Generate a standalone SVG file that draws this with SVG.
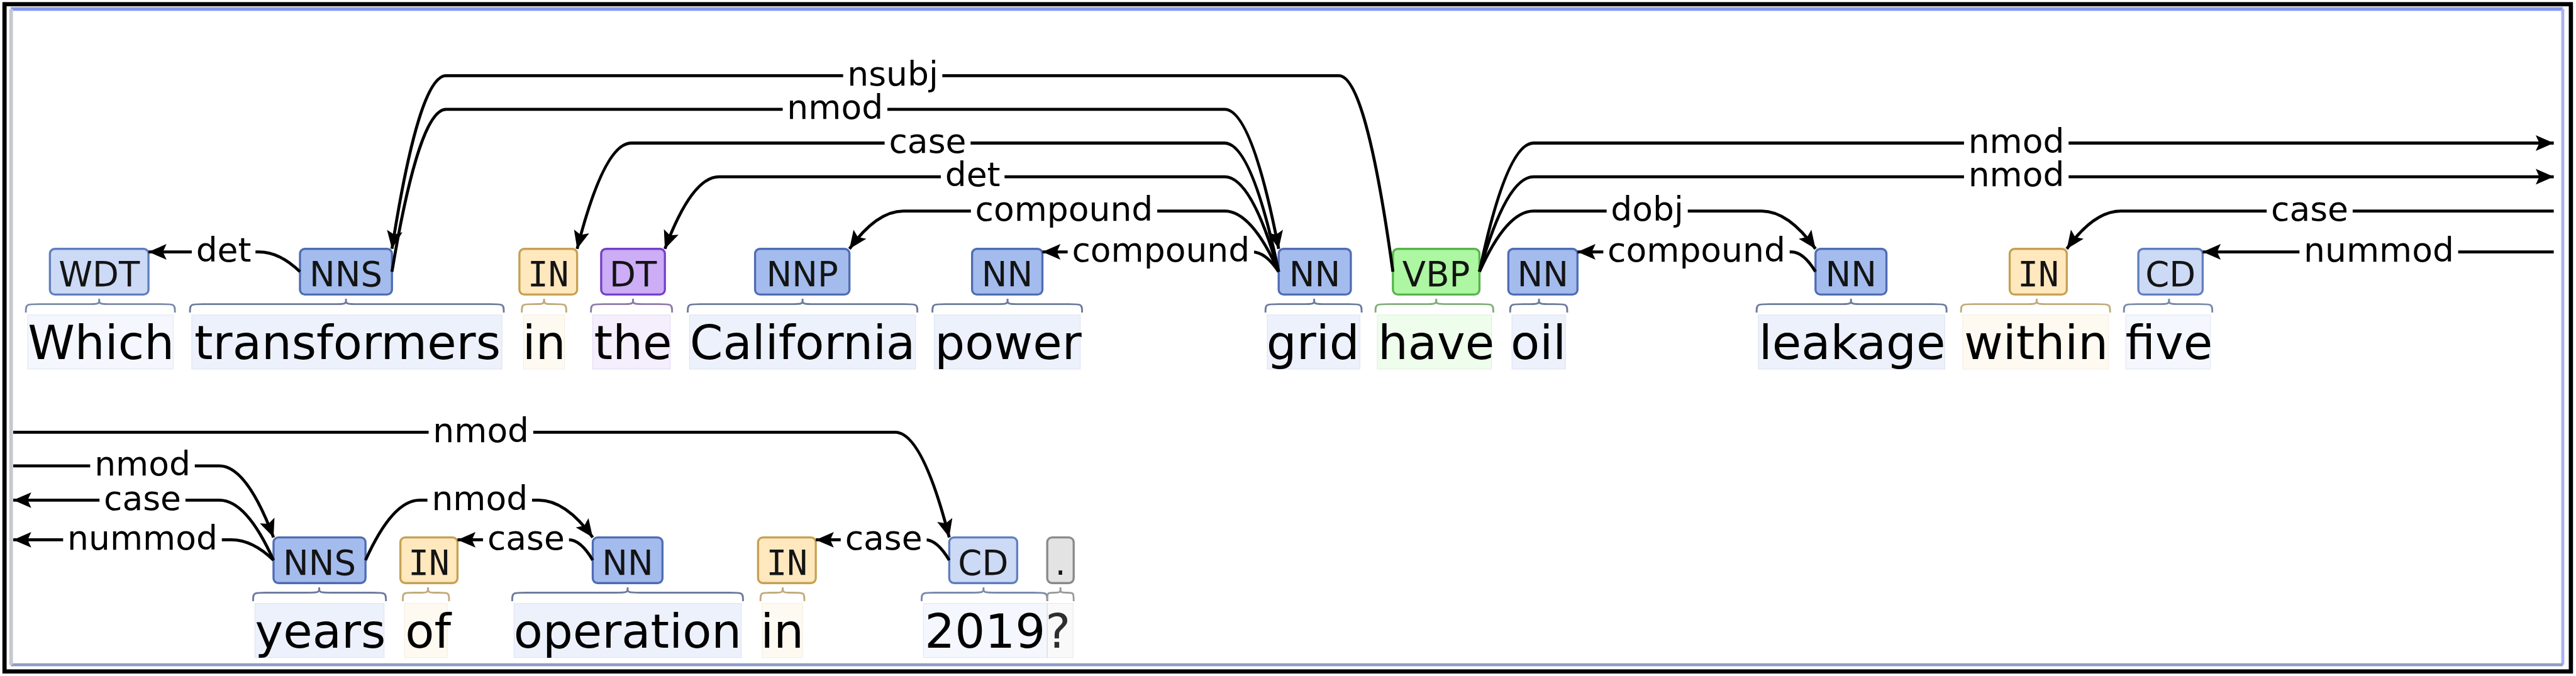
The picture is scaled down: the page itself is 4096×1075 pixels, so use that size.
<svg xmlns="http://www.w3.org/2000/svg" width="4096" height="1075" viewBox="0 0 4096 1075">
<style>
.bx{stroke-width:3.5}
.nn{fill:#A4BCED;stroke:#4f6cb4}
.vb{fill:#ADF6A2;stroke:#58b34c}
.in{fill:#FFE8BE;stroke:#c6a152}
.dt{fill:#CCADF6;stroke:#7440c8}
.cd{fill:#CCDAF6;stroke:#5f7ec0}
.pu{fill:#E3E3E3;stroke:#8a8a8a}
.br{fill:none;stroke-width:3}
.bnn{stroke:#6d7b9c}.bvb{stroke:#7fae78}.bin{stroke:#c2ab7c}.bdt{stroke:#8e7aaa}.bcd{stroke:#7a8aab}.bpu{stroke:#9a9a9a}
.wb{opacity:0.2}
.tg{font-family:"DejaVu Sans",sans-serif;font-size:57px;fill:#141414;text-anchor:middle}
.tm{font-family:"DejaVu Sans Mono",monospace}
.wd{font-family:"DejaVu Sans",sans-serif;font-size:79px;fill:#000;text-anchor:middle}
.arc{fill:none;stroke:#000;stroke-width:5}
.ar{marker-end:url(#ah)}
.lb{font-family:"DejaVu Sans",sans-serif;font-size:56px;fill:#000;text-anchor:middle}
.lbg{fill:#fff}
</style>
<defs>
<marker id="ah" markerUnits="userSpaceOnUse" markerWidth="34" markerHeight="30" viewBox="-32 -15 34 30" refX="0" refY="0" orient="auto">
<path d="M0,0 L-30,-13 L-24,0 L-30,13 Z" fill="#000"/>
</marker>
</defs>
<rect x="0" y="0" width="4096" height="1075" fill="#fff"/>
<g transform="scale(0.955893)">
<g id="frame">
<rect x="7.5" y="7" width="4269" height="1110" fill="none" stroke="#000" stroke-width="7"/>
<line x1="18" y1="15" x2="4263" y2="15" stroke="#8499ec" stroke-width="6"/>
<line x1="4263" y1="15" x2="4263" y2="1106" stroke="#a9b0f6" stroke-width="5"/>
<line x1="18" y1="1106" x2="4263" y2="1106" stroke="#8f9cc6" stroke-width="5"/>
<line x1="18.5" y1="15" x2="18.5" y2="1106" stroke="#c6c8d0" stroke-width="6"/>
</g>

<!-- Row 1 tokens -->
<g id="t1-Which">
<rect class="cd wb" x="46" y="524" width="242" height="90"/>
<rect class="bx cd" x="83" y="414" width="164" height="76" rx="8"/>
<text class="tg" x="165" y="476">WDT</text>
<path class="br bcd" d="M43,520 C43,506 43,506 65,506 L143,506 C165,506 165,506 165,497 C165,506 165,506 187,506 L269,506 C291,506 291,506 291,520"/>
<text class="wd" x="168" y="597">Which</text>
</g>
<g id="t2-transformers">
<rect class="nn wb" x="319" y="524" width="516" height="90"/>
<rect class="bx nn" x="499" y="414" width="153" height="76" rx="8"/>
<text class="tg" x="575.5" y="476">NNS</text>
<path class="br bnn" d="M316,520 C316,506 316,506 338,506 L553.5,506 C575.5,506 575.5,506 575.5,497 C575.5,506 575.5,506 597.5,506 L816,506 C838,506 838,506 838,520"/>
<text class="wd" x="578" y="597">transformers</text>
</g>
<g id="t3-in">
<rect class="in wb" x="871" y="524" width="68" height="90"/>
<rect class="bx in" x="864" y="414" width="96" height="76" rx="8"/>
<text class="tg tm" x="912" y="476">IN</text>
<path class="br bin" d="M868,520 C868,506 868,506 886.5,506 C905,506 905,506 905,497 C905,506 905,506 923.5,506 C942,506 942,506 942,520"/>
<text class="wd" x="905" y="597">in</text>
</g>
<g id="t4-the">
<rect class="dt wb" x="986" y="524" width="129" height="90"/>
<rect class="bx dt" x="1000" y="414" width="106" height="76" rx="8"/>
<text class="tg" x="1053" y="476">DT</text>
<path class="br bdt" d="M983,520 C983,506 983,506 1005,506 L1031,506 C1053,506 1053,506 1053,497 C1053,506 1053,506 1075,506 L1096,506 C1118,506 1118,506 1118,520"/>
<text class="wd" x="1053" y="597">the</text>
</g>
<g id="t5-California">
<rect class="nn wb" x="1147" y="524" width="376" height="90"/>
<rect class="bx nn" x="1256" y="414" width="157" height="76" rx="8"/>
<text class="tg" x="1334.5" y="476">NNP</text>
<path class="br bnn" d="M1144,520 C1144,506 1144,506 1166,506 L1313,506 C1335,506 1335,506 1335,497 C1335,506 1335,506 1357,506 L1504,506 C1526,506 1526,506 1526,520"/>
<text class="wd" x="1335" y="597">California</text>
</g>
<g id="t6-power">
<rect class="nn wb" x="1554" y="524" width="243" height="90"/>
<rect class="bx nn" x="1617" y="414" width="117" height="76" rx="8"/>
<text class="tg" x="1675.5" y="476">NN</text>
<path class="br bnn" d="M1551,520 C1551,506 1551,506 1573,506 L1654,506 C1676,506 1676,506 1676,497 C1676,506 1676,506 1698,506 L1778,506 C1800,506 1800,506 1800,520"/>
<text class="wd" x="1677" y="597">power</text>
</g>
<g id="t7-grid">
<rect class="nn wb" x="2108" y="524" width="154" height="90"/>
<rect class="bx nn" x="2127" y="414" width="120" height="76" rx="8"/>
<text class="tg" x="2187" y="476">NN</text>
<path class="br bnn" d="M2105,520 C2105,506 2105,506 2127,506 L2164,506 C2186,506 2186,506 2186,497 C2186,506 2186,506 2208,506 L2243,506 C2265,506 2265,506 2265,520"/>
<text class="wd" x="2184" y="597">grid</text>
</g>
<g id="t8-have">
<rect class="vb wb" x="2291" y="524" width="190" height="90"/>
<rect class="bx vb" x="2317" y="414" width="144" height="76" rx="8"/>
<text class="tg" x="2389" y="476">VBP</text>
<path class="br bvb" d="M2288,520 C2288,506 2288,506 2310,506 L2367,506 C2389,506 2389,506 2389,497 C2389,506 2389,506 2411,506 L2462,506 C2484,506 2484,506 2484,520"/>
<text class="wd" x="2389" y="597">have</text>
</g>
<g id="t9-oil">
<rect class="nn wb" x="2515" y="524" width="89" height="90"/>
<rect class="bx nn" x="2509" y="414" width="115" height="76" rx="8"/>
<text class="tg" x="2566.5" y="476">NN</text>
<path class="br bnn" d="M2512,520 C2512,506 2512,506 2534,506 L2538,506 C2560,506 2560,506 2560,497 C2560,506 2560,506 2582,506 L2585,506 C2607,506 2607,506 2607,520"/>
<text class="wd" x="2559" y="597">oil</text>
</g>
<g id="t10-leakage">
<rect class="nn wb" x="2925" y="524" width="310" height="90"/>
<rect class="bx nn" x="3020" y="414" width="118" height="76" rx="8"/>
<text class="tg" x="3079" y="476">NN</text>
<path class="br bnn" d="M2922,520 C2922,506 2922,506 2944,506 L3057,506 C3079,506 3079,506 3079,497 C3079,506 3079,506 3101,506 L3216,506 C3238,506 3238,506 3238,520"/>
<text class="wd" x="3081" y="597">leakage</text>
</g>
<g id="t11-within">
<rect class="in wb" x="3265" y="524" width="242" height="90"/>
<rect class="bx in" x="3343" y="414" width="95" height="76" rx="8"/>
<text class="tg tm" x="3390.5" y="476">IN</text>
<path class="br bin" d="M3262,520 C3262,506 3262,506 3284,506 L3366,506 C3388,506 3388,506 3388,497 C3388,506 3388,506 3410,506 L3488,506 C3510,506 3510,506 3510,520"/>
<text class="wd" x="3387" y="597">within</text>
</g>
<g id="t12-five">
<rect class="cd wb" x="3536" y="524" width="141" height="90"/>
<rect class="bx cd" x="3557" y="414" width="107" height="76" rx="8"/>
<text class="tg" x="3610.5" y="476">CD</text>
<path class="br bcd" d="M3533,520 C3533,506 3533,506 3555,506 L3586,506 C3608,506 3608,506 3608,497 C3608,506 3608,506 3630,506 L3658,506 C3680,506 3680,506 3680,520"/>
<text class="wd" x="3608" y="597">five</text>
</g>

<!-- Row 2 tokens -->
<g id="t13-years">
<rect class="nn wb" x="424" y="1004" width="215" height="90"/>
<rect class="bx nn" x="455" y="894" width="153" height="76" rx="8"/>
<text class="tg" x="531.5" y="956">NNS</text>
<path class="br bnn" d="M421,1000 C421,986 421,986 443,986 L509,986 C531,986 531,986 531,977 C531,986 531,986 553,986 L620,986 C642,986 642,986 642,1000"/>
<text class="wd" x="533" y="1078">years</text>
</g>
<g id="t14-of">
<rect class="in wb" x="673" y="1004" width="71" height="90"/>
<rect class="bx in" x="666" y="894" width="95" height="76" rx="8"/>
<text class="tg tm" x="713.5" y="956">IN</text>
<path class="br bin" d="M670,1000 C670,986 670,986 687.5,986 L694.5,986 C712,986 712,986 712,977 C712,986 712,986 729.5,986 C747,986 747,986 747,1000"/>
<text class="wd" x="712" y="1078">of</text>
</g>
<g id="t15-operation">
<rect class="nn wb" x="855" y="1004" width="378" height="90"/>
<rect class="bx nn" x="986" y="894" width="116" height="76" rx="8"/>
<text class="tg" x="1044" y="956">NN</text>
<path class="br bnn" d="M852,1000 C852,986 852,986 874,986 L1022,986 C1044,986 1044,986 1044,977 C1044,986 1044,986 1066,986 L1214,986 C1236,986 1236,986 1236,1000"/>
<text class="wd" x="1044" y="1078">operation</text>
</g>
<g id="t16-in">
<rect class="in wb" x="1268" y="1004" width="67" height="90"/>
<rect class="bx in" x="1261" y="894" width="96" height="76" rx="8"/>
<text class="tg tm" x="1309" y="956">IN</text>
<path class="br bin" d="M1265,1000 C1265,986 1265,986 1283,986 L1284,986 C1302,986 1302,986 1302,977 C1302,986 1302,986 1320,986 C1338,986 1338,986 1338,1000"/>
<text class="wd" x="1301" y="1078">in</text>
</g>
<g id="t17-2019">
<rect class="cd wb" x="1536" y="1004" width="206" height="90"/>
<rect class="bx cd" x="1579" y="894" width="113" height="76" rx="8"/>
<text class="tg" x="1635.5" y="956">CD</text>
<path class="br bcd" d="M1533,1000 C1533,986 1533,986 1555,986 L1614,986 C1636,986 1636,986 1636,977 C1636,986 1636,986 1658,986 L1720,986 C1742,986 1742,986 1742,1000"/>
<text class="wd" x="1538" y="1078" style="text-anchor:start">2019?</text>
</g>
<g id="t18-punct">
<rect class="pu wb" x="1742" y="1004" width="43" height="90"/>
<rect class="bx pu" x="1742" y="894" width="44" height="76" rx="8"/>
<text class="tg" x="1764" y="956">.</text>
<path class="br bpu" d="M1742,1000 C1742,986 1742,986 1753,986 C1764,986 1764,986 1764,977 C1764,986 1764,986 1775,986 C1786,986 1786,986 1786,1000"/>
</g>

<g id="connectors">
<path class="arc ar" d="M2317,452 Q2272,126 2227,126 L742,126 Q697,126 652,414"/>
<path class="arc ar" d="M652,452 Q697,182 742,182 L2037,182 Q2082,182 2127,414"/>
<path class="arc ar" d="M2127,452 Q2082,238 2037,238 L1050,238 Q1005,238 960,414"/>
<path class="arc ar" d="M2127,452 Q2082,294 2037,294 L1196,294 Q1151,294 1106,414"/>
<path class="arc ar" d="M2127,452 Q2082,351 2037,351 L1503,351 Q1458,351 1413,414"/>
<path class="arc ar" d="M2127,452 Q2105,419 2083,419 L1734,419"/>
<path class="arc ar" d="M499,452 Q465,419 431,419 L247,419"/>
<path class="arc ar" d="M2461,452 Q2506,238 2551,238 L4248,238"/>
<path class="arc ar" d="M2461,452 Q2506,294 2551,294 L4248,294"/>
<path class="arc ar" d="M2461,452 Q2506,351 2551,351 L2930,351 Q2975,351 3020,414"/>
<path class="arc ar" d="M3020,452 Q3000,419 2980,419 L2624,419"/>
<path class="arc ar" d="M4248,351 L3528,351 Q3483,351 3438,414"/>
<path class="arc ar" d="M4248,419 L3664,419"/>
<path class="arc ar" d="M22,719 L1489,719 Q1534,719 1579,894"/>
<path class="arc ar" d="M22,775 L365,775 Q410,775 455,894"/>
<path class="arc ar" d="M455,932 Q410,832 365,832 L22,832"/>
<path class="arc ar" d="M455,932 Q420,898 385,898 L22,898"/>
<path class="arc ar" d="M608,932 Q653,832 698,832 L896,832 Q941,832 986,894"/>
<path class="arc ar" d="M986,932 Q966,898 946,898 L761,898"/>
<path class="arc ar" d="M1579,932 Q1559,898 1539,898 L1357,898"/>

<rect class="lbg" x="1402.5" y="102" width="165" height="48"/><text class="lb" x="1485" y="142">nsubj</text>
<rect class="lbg" x="1302" y="158" width="174" height="48"/><text class="lb" x="1389" y="198">nmod</text>
<rect class="lbg" x="1471.5" y="214" width="143" height="48"/><text class="lb" x="1543" y="254">case</text>
<rect class="lbg" x="1565" y="270" width="106" height="48"/><text class="lb" x="1618" y="310">det</text>
<rect class="lbg" x="1615" y="327" width="310" height="48"/><text class="lb" x="1770" y="367">compound</text>
<rect class="lbg" x="1776" y="395" width="310" height="48"/><text class="lb" x="1931" y="435">compound</text>
<rect class="lbg" x="319" y="395" width="106" height="48"/><text class="lb" x="372" y="435">det</text>
<rect class="lbg" x="3267" y="214" width="174" height="48"/><text class="lb" x="3354" y="254">nmod</text>
<rect class="lbg" x="3267" y="270" width="174" height="48"/><text class="lb" x="3354" y="310">nmod</text>
<rect class="lbg" x="2672.5" y="327" width="135" height="48"/><text class="lb" x="2740" y="367">dobj</text>
<rect class="lbg" x="2667" y="395" width="310" height="48"/><text class="lb" x="2822" y="435">compound</text>
<rect class="lbg" x="3770.5" y="327" width="143" height="48"/><text class="lb" x="3842" y="367">case</text>
<rect class="lbg" x="3825" y="395" width="264" height="48"/><text class="lb" x="3957" y="435">nummod</text>
<rect class="lbg" x="713" y="695" width="174" height="48"/><text class="lb" x="800" y="735">nmod</text>
<rect class="lbg" x="150" y="751" width="174" height="48"/><text class="lb" x="237" y="791">nmod</text>
<rect class="lbg" x="165.5" y="808" width="143" height="48"/><text class="lb" x="237" y="848">case</text>
<rect class="lbg" x="105" y="874" width="264" height="48"/><text class="lb" x="237" y="914">nummod</text>
<rect class="lbg" x="711" y="808" width="174" height="48"/><text class="lb" x="798" y="848">nmod</text>
<rect class="lbg" x="803.5" y="874" width="143" height="48"/><text class="lb" x="875" y="914">case</text>
<rect class="lbg" x="1398.5" y="874" width="143" height="48"/><text class="lb" x="1470" y="914">case</text>
</g>
</g>
</svg>
